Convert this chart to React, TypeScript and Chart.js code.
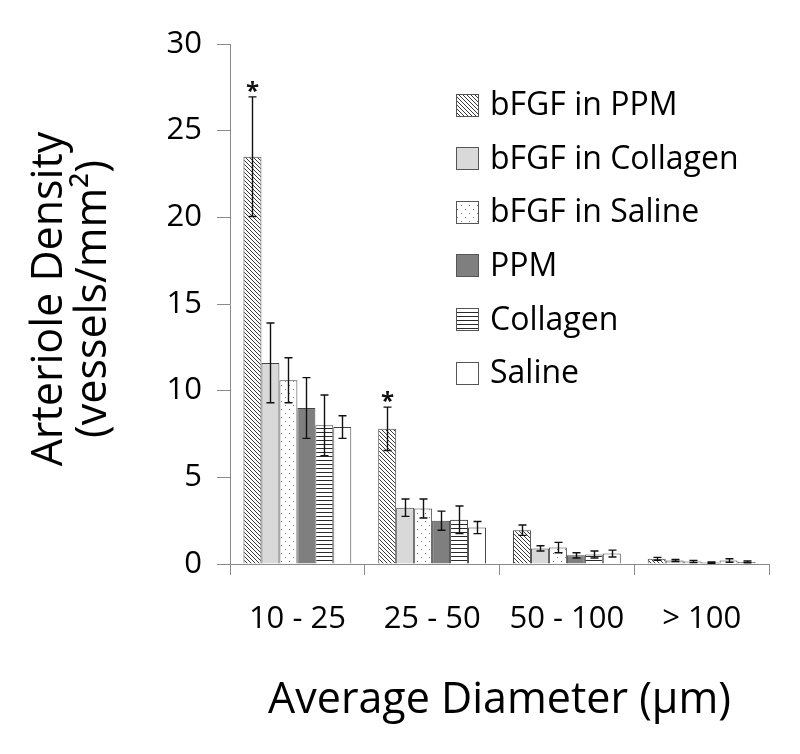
import { useEffect, useRef } from 'react';
import { Chart, registerables } from 'chart.js';

Chart.register(...registerables);

const categories = ['10 - 25', '25 - 50', '50 - 100', '> 100'];
const seriesNames = ['bFGF in PPM', 'bFGF in Collagen', 'bFGF in Saline', 'PPM', 'Collagen', 'Saline'];

const bfgfPpm = [23.5, 7.8, 1.95, 0.3];
const bfgfCollagen = [11.6, 3.25, 0.9, 0.2];
const bfgfSaline = [10.6, 3.2, 0.95, 0.15];
const ppm = [9.0, 2.5, 0.5, 0.08];
const collagen = [8.0, 2.55, 0.55, 0.2];
const saline = [7.9, 2.1, 0.6, 0.12];

const bfgfPpmErr = [3.45, 1.25, 0.3, 0.08];
const bfgfCollagenErr = [2.3, 0.5, 0.15, 0.06];
const bfgfSalineErr = [1.3, 0.55, 0.3, 0.06];
const ppmErr = [1.75, 0.55, 0.15, 0.04];
const collagenErr = [1.75, 0.8, 0.2, 0.1];
const salineErr = [0.65, 0.35, 0.2, 0.05];

// significance markers for the first series (bFGF in PPM)
const significance = ['*', '*', '', ''];

const yTitleLines = ['Arteriole Density', '(vessels/mm²)'];
const xTitle = 'Average Diameter (μm)';

const FONT = "'Open Sans', 'DejaVu Sans', sans-serif";

function makePattern(kind: string): CanvasPattern | string {
  const c = document.createElement('canvas');
  const ctx = c.getContext('2d')!;
  if (kind === 'diag') {
    c.width = 4; c.height = 4;
    ctx.fillStyle = '#ffffff';
    ctx.fillRect(0, 0, 4, 4);
    ctx.strokeStyle = '#3a3a3a';
    ctx.lineWidth = 1;
    ctx.beginPath();
    ctx.moveTo(-1, -1); ctx.lineTo(5, 5);
    ctx.moveTo(-1, 3); ctx.lineTo(1, 5);
    ctx.moveTo(3, -1); ctx.lineTo(5, 1);
    ctx.stroke();
  } else if (kind === 'dots') {
    c.width = 8; c.height = 8;
    ctx.fillStyle = '#ffffff';
    ctx.fillRect(0, 0, 8, 8);
    ctx.fillStyle = '#7a7a7a';
    ctx.fillRect(1, 1, 1, 1);
    ctx.fillRect(5, 5, 1, 1);
  } else if (kind === 'hlines') {
    c.width = 4; c.height = 4;
    ctx.fillStyle = '#ffffff';
    ctx.fillRect(0, 0, 4, 4);
    ctx.fillStyle = '#2a2a2a';
    ctx.fillRect(0, 0, 4, 1);
  } else {
    return kind;
  }
  return ctx.createPattern(c, 'repeat')!;
}

export default function App() {
  const ref = useRef<HTMLCanvasElement>(null);

  useEffect(() => {
    document.body.style.margin = '0';
    const canvas = ref.current;
    if (!canvas) return;

    const values = [bfgfPpm, bfgfCollagen, bfgfSaline, ppm, collagen, saline];
    const errors = [bfgfPpmErr, bfgfCollagenErr, bfgfSalineErr, ppmErr, collagenErr, salineErr];
    const fills = [
      makePattern('diag'),
      makePattern('#d9d9d9'),
      makePattern('dots'),
      makePattern('#7f7f7f'),
      makePattern('hlines'),
      makePattern('#ffffff'),
    ];

    const extras = {
      id: 'extras',
      afterDatasetsDraw(chart: any) {
        const ctx = chart.ctx as CanvasRenderingContext2D;
        const yScale = chart.scales.y;
        ctx.save();
        ctx.strokeStyle = '#111';
        ctx.lineWidth = 1.4;
        chart.data.datasets.forEach((ds: any, di: number) => {
          const meta = chart.getDatasetMeta(di);
          meta.data.forEach((bar: any, i: number) => {
            const v = ds.data[i];
            const e = errors[di][i];
            const x = Math.round(bar.x) + 0.5;
            const yt = yScale.getPixelForValue(v + e);
            const yb = yScale.getPixelForValue(Math.max(0, v - e));
            ctx.beginPath();
            ctx.moveTo(x, yt); ctx.lineTo(x, yb);
            ctx.moveTo(x - 4, yt); ctx.lineTo(x + 4, yt);
            ctx.moveTo(x - 4, yb); ctx.lineTo(x + 4, yb);
            ctx.stroke();
            if (di === 0 && significance[i]) {
              ctx.fillStyle = '#111';
              ctx.font = `bold 24px ${FONT}`;
              ctx.textAlign = 'center';
              ctx.textBaseline = 'alphabetic';
              ctx.fillText(significance[i], x, yt + 2);
            }
          });
        });
        ctx.restore();
      },
      afterDraw(chart: any) {
        const ctx = chart.ctx as CanvasRenderingContext2D;
        const area = chart.chartArea;
        ctx.save();
        // legend
        ctx.font = `32px ${FONT}`;
        ctx.textAlign = 'left';
        ctx.textBaseline = 'middle';
        chart.data.datasets.forEach((ds: any, di: number) => {
          const cy = 105 + di * 53.6;
          const bx = 456.5, by = Math.round(cy - 11.5) + 0.5;
          ctx.fillStyle = ds.backgroundColor;
          ctx.fillRect(bx, by, 22, 22);
          ctx.strokeStyle = '#555';
          ctx.lineWidth = 1;
          ctx.strokeRect(bx, by, 22, 22);
          ctx.fillStyle = '#000';
          ctx.fillText(ds.label, 490, cy + 1);
        });
        // axis titles
        ctx.fillStyle = '#000';
        ctx.font = `43px ${FONT}`;
        ctx.textAlign = 'center';
        ctx.textBaseline = 'alphabetic';
        const cy = (area.top + area.bottom) / 2 - 5;
        ctx.save();
        ctx.translate(62, cy);
        ctx.rotate(-Math.PI / 2);
        ctx.fillText(yTitleLines[0], 0, 0);
        ctx.restore();
        ctx.save();
        ctx.translate(106, cy);
        ctx.rotate(-Math.PI / 2);
        ctx.fillText(yTitleLines[1], 0, 0);
        ctx.restore();
        ctx.fillText(xTitle, (area.left + area.right) / 2, 713);
        ctx.restore();
      },
    };

    const chart = new Chart(canvas, {
      type: 'bar',
      data: {
        labels: categories,
        datasets: seriesNames.map((name, i) => ({
          label: name,
          data: values[i],
          backgroundColor: fills[i] as any,
          borderColor: '#444',
          borderWidth: 1,
          categoryPercentage: 0.8,
          barPercentage: 1.0,
        })),
      },
      options: {
        responsive: false,
        animation: false,
        devicePixelRatio: 1,
        layout: { padding: { top: 44, right: 31, left: 0, bottom: 0 } },
        plugins: { legend: { display: false }, tooltip: { enabled: false }, title: { display: false } },
        scales: {
          x: {
            grid: { display: true, drawOnChartArea: false, drawTicks: true, tickLength: 11, color: '#8a8a8a', offset: true },
            border: { display: true, color: '#8a8a8a', width: 1 },
            ticks: { color: '#000', font: { family: FONT, size: 31 }, padding: 26, maxRotation: 0 },
            afterFit: (s: any) => { s.height = 190; },
          },
          y: {
            min: 0,
            max: 30,
            ticks: { stepSize: 5, color: '#000', font: { family: FONT, size: 31 }, padding: 15 },
            grid: { display: true, drawOnChartArea: false, drawTicks: true, tickLength: 13, color: '#8a8a8a' },
            border: { display: true, color: '#8a8a8a', width: 1 },
            afterFit: (s: any) => { s.width = 230; },
          },
        },
      },
      plugins: [extras],
    });
    return () => chart.destroy();
  }, []);

  return (
    <div style={{ width: 800, height: 754 }}>
      <canvas ref={ref} width={800} height={754} style={{ display: 'block' }} />
    </div>
  );
}
